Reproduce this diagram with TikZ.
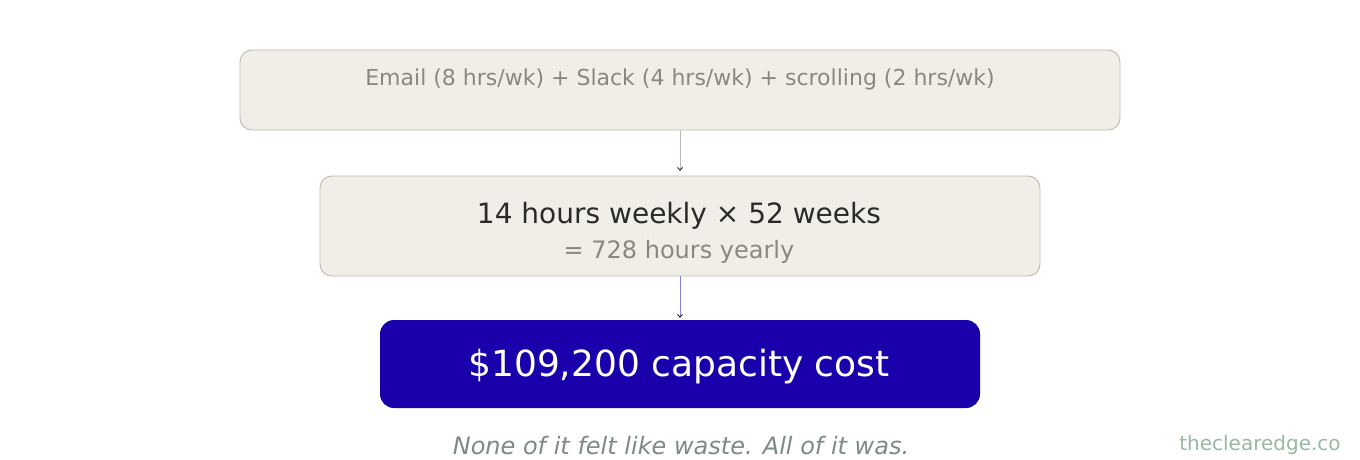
\documentclass[tikz,border=0pt]{standalone}
\usepackage{fontspec}
\setmainfont{DejaVu Sans}
\usetikzlibrary{arrows.meta}
\definecolor{boxfill}{HTML}{F1EEE7}
\definecolor{boxline}{HTML}{BEB9B0}
\definecolor{graytext}{HTML}{8A8680}
\definecolor{darktext}{HTML}{2A2A2A}
\definecolor{accent}{HTML}{1A00AA}
\definecolor{arrowpurple}{HTML}{8A7FDB}
\definecolor{captioncol}{HTML}{7E8A84}
\definecolor{markcol}{HTML}{98B8A2}
\tikzset{
  stepbox/.style={draw=boxline, fill=boxfill, line width=0.9pt, rounded corners=12pt},
  resultbox/.style={fill=accent, rounded corners=14pt},
  conn/.style={line width=0.9pt, -{Straight Barb[length=3pt,width=5pt,color=black!85]}},
}
\begin{document}
\begin{tikzpicture}[x=1pt,y=-1pt]
\useasboundingbox (0,0) rectangle (1360,460);
\fill[white] (0,0) rectangle (1360,460);
% boxes
\draw[stepbox] (240,50) rectangle (1120,130);
\node[font=\fontsize{22}{26}\selectfont, text=graytext] (t1) at (680,79) {Email (8 hrs/wk) + Slack (4 hrs/wk) + scrolling (2 hrs/wk)};
\draw[stepbox] (320,176) rectangle (1040,276);
\node[font=\fontsize{28}{32}\selectfont, text=darktext] (t2) at (679,216) {14 hours weekly × 52 weeks};
\node[font=\fontsize{24}{28}\selectfont, text=graytext] (t3) at (679,252) {= 728 hours yearly};
\fill[resultbox] (380,320) rectangle (980,408);
\node[font=\fontsize{36}{42}\selectfont, text=white] (t4) at (679,366.5) {\$109,200 capacity cost};
% connectors
\coordinate (a1s) at (680,130);
\coordinate (a1e) at (680,171);
\coordinate (a2s) at (680,276);
\coordinate (a2e) at (680,318);
\draw[conn, draw=boxline] (a1s) -- (a1e);
\draw[conn, draw=arrowpurple] (a2s) -- (a2e);
% caption
\node[font=\fontsize{24}{28}\selectfont\itshape, text=captioncol, inner sep=0pt, anchor=base] (cap) at (681,454) {None of it felt like waste. All of it was.};
\node[font=\fontsize{20}{24}\selectfont, text=markcol] (mark) at (1260,445) {theclearedge.co};
\end{tikzpicture}
\end{document}
